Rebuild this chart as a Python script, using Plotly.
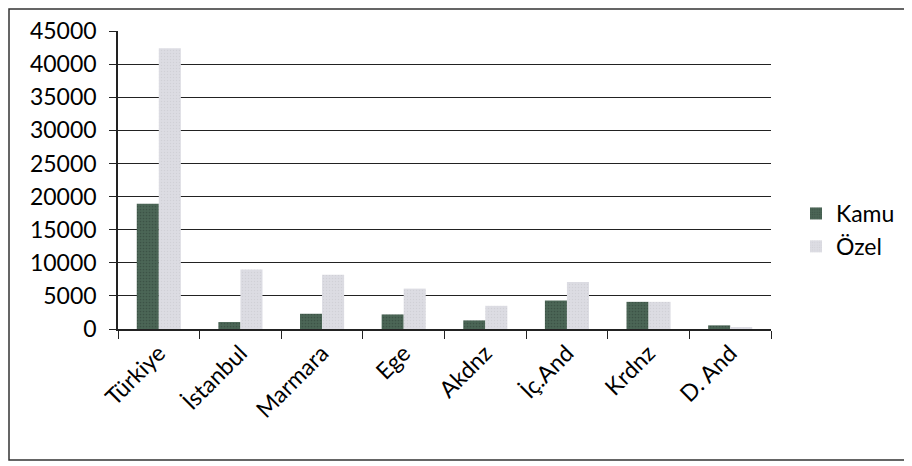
import plotly.graph_objects as go

categories = ["Türkiye", "İstanbul", "Marmara", "Ege", "Akdnz", "İç.And", "Krdnz", "D. And"]
kamu = [18900, 1050, 2300, 2200, 1300, 4300, 4100, 550]
ozel = [42400, 9000, 8200, 6100, 3500, 7100, 4100, 200]
y_ticks = [0, 5000, 10000, 15000, 20000, 25000, 30000, 35000, 40000, 45000]

# page body has an 8px margin; compensate so the figure fits the 912x466 window
OFF = 8
W, H = 912 - OFF, 466 - OFF
L, R, T, B = 118 - OFF, 141, 31 - OFF, 137
pw = W - L - R
ph = H - T - B


def px(x):
    return (x - OFF - L) / pw


def py(y):
    return (H - B - (y - OFF)) / ph


fig = go.Figure()
fig.add_trace(go.Bar(name="Kamu", x=categories, y=kamu, legendgroup="k",
                     marker=dict(color="#4b6656", line=dict(width=0),
                                 pattern=dict(shape=".", size=3, solidity=0.25, fgcolor="#2d4035"))))
fig.add_trace(go.Bar(name="Özel", x=categories, y=ozel, legendgroup="o",
                     marker=dict(color="#dcdce3", line=dict(width=0),
                                 pattern=dict(shape=".", size=3, solidity=0.2, fgcolor="#c4c4cc"))))

fig.update_layout(
    width=W, height=H,
    margin=dict(l=L, r=R, t=T, b=B, autoexpand=False),
    paper_bgcolor="white", plot_bgcolor="white",
    barmode="group", bargap=0.46, bargroupgap=0,
    font=dict(family="Lato", size=23, color="#000000"),
    legend=dict(x=px(796), y=py(230), xanchor="left", yanchor="middle",
                font=dict(size=23), itemwidth=30, tracegroupgap=0,
                bgcolor="rgba(0,0,0,0)"),
    xaxis=dict(type="category", showline=True, linecolor="#222222", linewidth=1.5,
               ticks="outside", ticklen=8, tickcolor="#222222", tickson="boundaries",
               tickangle=-45, showgrid=False, tickfont=dict(size=23),
               mirror=False),
    yaxis=dict(range=[0, 45000], tickvals=y_ticks, ticktext=[str(v) for v in y_ticks],
               showline=True, linecolor="#222222", linewidth=1.5,
               ticks="outside", ticklen=7, tickcolor="#222222",
               ticklabelstandoff=8,
               showgrid=True, gridcolor="#222222", gridwidth=1.3,
               zeroline=False, tickfont=dict(size=23)),
    shapes=[dict(type="rect", xref="paper", yref="paper",
                 x0=px(9), x1=px(906),
                 y0=py(460), y1=py(9),
                 line=dict(color="#333333", width=1.5), fillcolor="rgba(0,0,0,0)",
                 layer="below")],
)

fig.write_html("out.html")
